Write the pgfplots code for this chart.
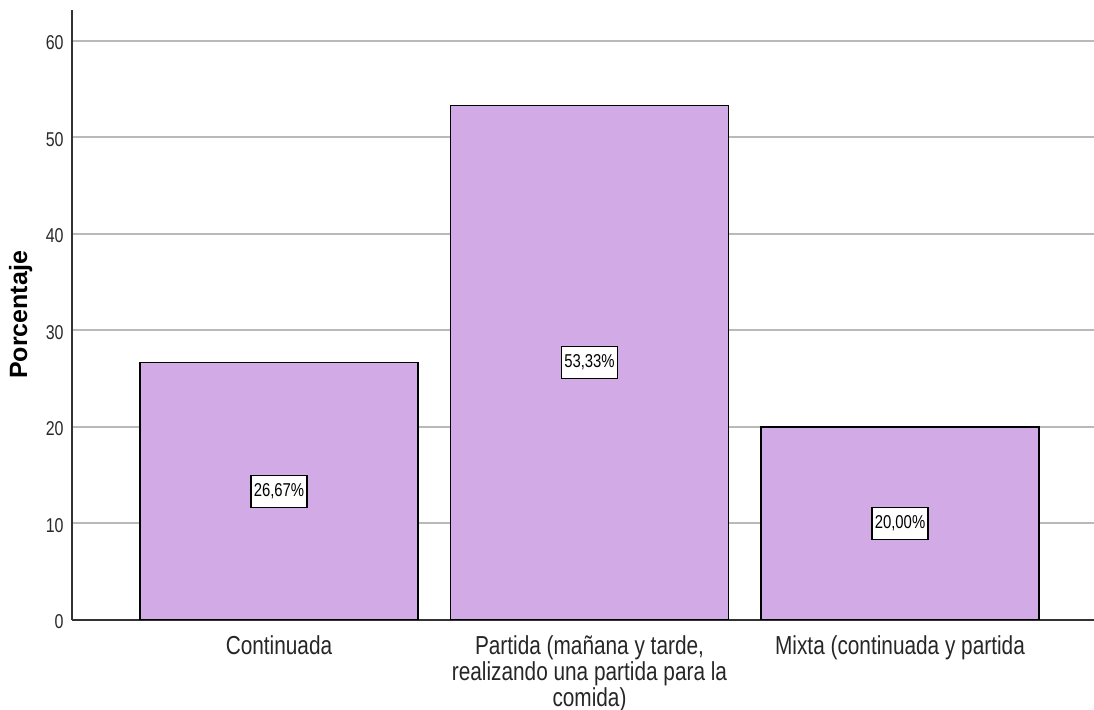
\documentclass[border=0pt]{standalone}
\usepackage{pgfplots}
\pgfplotsset{compat=1.18}
\usepackage{fontspec}
\setmainfont{Liberation Sans}
\newfontfamily\narrowfont{Liberation Sans}[FakeStretch=0.8]
\definecolor{barfill}{RGB}{210,170,229}
\definecolor{gridgray}{RGB}{185,185,185}
\definecolor{axisgray}{RGB}{51,51,51}
\begin{document}
\begin{tikzpicture}
\begin{axis}[
  at={(0,0)}, anchor=south west,
  width=511.15pt, height=305pt, scale only axis,
  xmin=-0.6676, xmax=2.6248, ymin=0, ymax=63.21,
  ytick={0,10,20,30,40,50,60},
  xtick={0,1,2},
  xticklabels={Continuada,{Partida (mañana y tarde,\\realizando una partida para la\\comida)},{Mixta (continuada y partida}},
  ymajorgrids,
  grid style={draw=gridgray, line width=1pt},
  axis x line*=bottom, axis y line*=left,
  axis line style={draw=axisgray, line width=1pt, -},
  major tick length=0pt,
  /pgf/number format/assume math mode=true,
  yticklabel style={font=\narrowfont\fontsize{10}{11}\selectfont, text=axisgray!80!black, anchor=east, xshift=-0.5pt, yshift=-1pt},
  xticklabel style={font=\narrowfont\fontsize{13}{10.6}\selectfont, text=black!85, align=center, anchor=north, yshift=-4.2pt},
  ylabel={Porcentaje},
  ylabel style={font=\bfseries\fontsize{12.5}{14}\selectfont, at={(axis description cs:-0.0437,0.5)}, anchor=base, rotate=0},
]
\addplot[ybar, bar width=0.895, fill=barfill, draw=black, line width=0.7pt] coordinates {(0,26.67) (1,53.33) (2,20.00)};
\addplot[only marks, mark=none, point meta=explicit,
  nodes near coords={\pgfmathprintnumber[fixed,fixed zerofill,precision=2,use comma,assume math mode=true]{\pgfplotspointmeta}\%},
  every node near coord/.style={anchor=center, draw=black, fill=white, line width=0.7pt, inner xsep=1.4pt, minimum height=16pt, text=black, font=\narrowfont\fontsize{9.3}{10}\selectfont}]
  coordinates {(0,13.335)[26.67] (1,26.665)[53.33] (2,10)[20.00]};
\end{axis}
\pgfresetboundingbox
\path (-35.85pt,-45pt) rectangle (511.15pt,310pt);
\end{tikzpicture}
\end{document}
